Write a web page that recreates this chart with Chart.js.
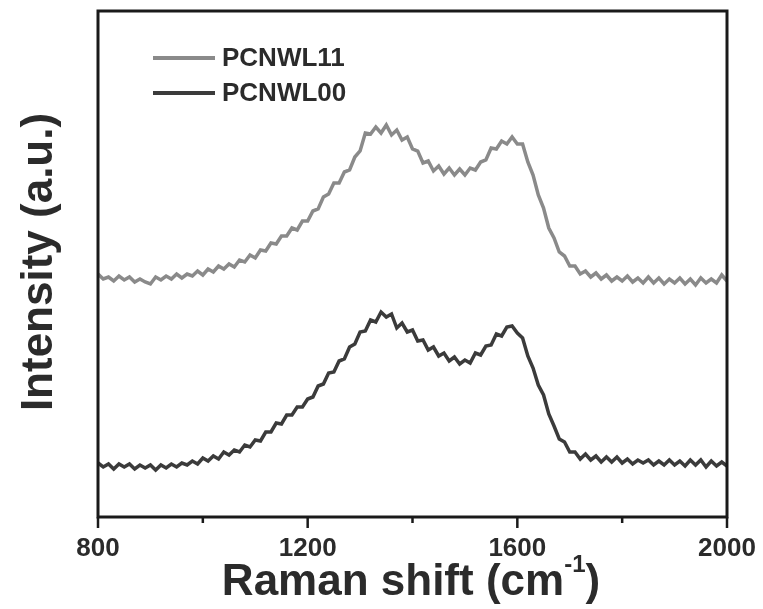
<!DOCTYPE html>
<html>
<head>
<meta charset="utf-8">
<script src="https://cdn.jsdelivr.net/npm/chart.js@4/dist/chart.umd.min.js"></script>
<style>
  html, body { margin: 0; padding: 0; background: #fff; }
  #wrap { width: 763px; height: 609px; }
</style>
</head>
<body>
<div id="wrap"><canvas id="grafico" width="763" height="609"></canvas></div>
<script>
// Raman shift (cm-1), one reading every 10 cm-1
const ramanShift = [
  800, 810, 820, 830, 840, 850, 860, 870, 880, 890,
  900, 910, 920, 930, 940, 950, 960, 970, 980, 990,
  1000, 1010, 1020, 1030, 1040, 1050, 1060, 1070, 1080, 1090,
  1100, 1110, 1120, 1130, 1140, 1150, 1160, 1170, 1180, 1190,
  1200, 1210, 1220, 1230, 1240, 1250, 1260, 1270, 1280, 1290,
  1300, 1310, 1320, 1330, 1340, 1350, 1360, 1370, 1380, 1390,
  1400, 1410, 1420, 1430, 1440, 1450, 1460, 1470, 1480, 1490,
  1500, 1510, 1520, 1530, 1540, 1550, 1560, 1570, 1580, 1590,
  1600, 1610, 1620, 1630, 1640, 1650, 1660, 1670, 1680, 1690,
  1700, 1710, 1720, 1730, 1740, 1750, 1760, 1770, 1780, 1790,
  1800, 1810, 1820, 1830, 1840, 1850, 1860, 1870, 1880, 1890,
  1900, 1910, 1920, 1930, 1940, 1950, 1960, 1970, 1980, 1990,
  2000
];

// intensidade (u.a.), já com o deslocamento vertical do gráfico
const pcnwl11 = [
  243, 238, 240, 236, 241, 237, 240, 235, 238, 235,
  233, 240, 237, 241, 238, 243, 239, 243, 241, 246,
  242, 248, 245, 251, 248, 253, 250, 257, 255, 262,
  259, 267, 266, 274, 273, 281, 281, 289, 287, 296,
  296, 306, 308, 320, 323, 334, 334, 345, 347, 360,
  366, 384, 383, 390, 384, 392, 382, 387, 377, 380,
  368, 366, 354, 356, 346, 351, 343, 349, 342, 348,
  342, 349, 347, 355, 357, 369, 368, 376, 373, 380,
  373, 373, 355, 342, 322, 309, 289, 279, 265, 261,
  251, 251, 243, 246, 240, 244, 238, 242, 236, 240,
  236, 241, 235, 239, 234, 240, 234, 239, 233, 238,
  234, 239, 233, 238, 232, 239, 234, 238, 234, 242,
  236
];

const pcnwl00 = [
  54, 50, 53, 48, 53, 50, 53, 48, 52, 49,
  52, 47, 52, 49, 53, 50, 54, 52, 56, 53,
  59, 56, 61, 58, 65, 62, 67, 65, 72, 70,
  77, 76, 85, 85, 94, 93, 102, 102, 110, 110,
  118, 120, 131, 133, 144, 145, 156, 158, 170, 173,
  185, 186, 197, 195, 205, 200, 203, 189, 194, 185,
  187, 176, 177, 167, 170, 161, 164, 156, 160, 153,
  157, 154, 164, 162, 171, 172, 183, 181, 190, 191,
  184, 179, 161, 149, 132, 122, 103, 91, 78, 75,
  65, 65, 58, 63, 57, 61, 55, 60, 55, 60,
  54, 58, 53, 57, 54, 57, 52, 56, 52, 57,
  52, 56, 51, 57, 52, 57, 50, 56, 51, 55,
  51
];

const nomesSeries = ['PCNWL11', 'PCNWL00'];
const coresSeries = ['#8a8a8a', '#3b3b3b'];
const ticksMaiores = [800, 1200, 1600, 2000];
const ticksMenores = [1000, 1400, 1800];

const FONTE = '"Liberation Sans", Arial, sans-serif';
const TINTA = '#2b2b2b';

function pontos(ys) {
  return ramanShift.map((x, i) => ({ x, y: ys[i] }));
}

// moldura, ticks, legenda e títulos dos eixos
const moldura = {
  id: 'moldura',
  afterDraw(chart) {
    const { ctx, chartArea: a, scales } = chart;
    const sx = scales.x;
    ctx.save();
    ctx.strokeStyle = '#1a1a1a';
    ctx.lineWidth = 3;
    ctx.strokeRect(a.left, a.top, a.right - a.left, a.bottom - a.top);

    ctx.lineWidth = 2.5;
    ticksMaiores.forEach(v => {
      const px = sx.getPixelForValue(v);
      ctx.beginPath(); ctx.moveTo(px, a.bottom); ctx.lineTo(px, a.bottom + 11); ctx.stroke();
    });
    ticksMenores.forEach(v => {
      const px = sx.getPixelForValue(v);
      ctx.beginPath(); ctx.moveTo(px, a.bottom); ctx.lineTo(px, a.bottom + 6); ctx.stroke();
    });

    // legenda dentro da área
    ctx.font = 'bold 26px ' + FONTE;
    ctx.textBaseline = 'middle';
    nomesSeries.forEach((nome, i) => {
      const y = 58 + i * 35;
      ctx.strokeStyle = coresSeries[i];
      ctx.lineWidth = 4;
      ctx.beginPath(); ctx.moveTo(153, y); ctx.lineTo(215, y); ctx.stroke();
      ctx.fillStyle = TINTA;
      ctx.fillText(nome, 222, y + 1);
    });

    // título do eixo x com expoente
    ctx.fillStyle = TINTA;
    ctx.textBaseline = 'alphabetic';
    const base = 'Raman shift (cm';
    ctx.font = 'bold 44px ' + FONTE;
    const w1 = ctx.measureText(base).width;
    const w3 = ctx.measureText(')').width;
    ctx.font = 'bold 24px ' + FONTE;
    const w2 = ctx.measureText('-1').width;
    const x0 = 411 - (w1 + w2 + w3) / 2;
    const yb = 595;
    ctx.font = 'bold 44px ' + FONTE;
    ctx.fillText(base, x0, yb);
    ctx.font = 'bold 24px ' + FONTE;
    ctx.fillText('-1', x0 + w1, yb - 23);
    ctx.font = 'bold 44px ' + FONTE;
    ctx.fillText(')', x0 + w1 + w2, yb);

    // título do eixo y
    ctx.translate(52, 262);
    ctx.rotate(-Math.PI / 2);
    ctx.textAlign = 'center';
    ctx.textBaseline = 'alphabetic';
    ctx.font = 'bold 44px ' + FONTE;
    ctx.fillText('Intensity (a.u.)', 0, 0);
    ctx.restore();
  }
};

new Chart(document.getElementById('grafico'), {
  type: 'line',
  data: {
    datasets: [
      { label: nomesSeries[0], data: pontos(pcnwl11), borderColor: coresSeries[0], borderWidth: 3.5, pointRadius: 0, tension: 0 },
      { label: nomesSeries[1], data: pontos(pcnwl00), borderColor: coresSeries[1], borderWidth: 3.5, pointRadius: 0, tension: 0 }
    ]
  },
  options: {
    responsive: false,
    animation: false,
    layout: { padding: { top: 11, right: 36, left: 0, bottom: 0 } },
    scales: {
      x: {
        type: 'linear',
        min: 800,
        max: 2000,
        grid: { display: false, drawTicks: false },
        border: { display: false },
        ticks: {
          stepSize: 400,
          padding: 16,
          color: TINTA,
          font: { family: FONTE, size: 26, weight: 'bold' },
          maxRotation: 0,
          callback: v => String(v)
        },
        afterFit: s => { s.height = 92; s.paddingLeft = 0; s.paddingRight = 0; }
      },
      y: {
        min: 0,
        max: 506,
        grid: { display: false, drawTicks: false },
        border: { display: false },
        ticks: { display: false },
        afterFit: s => { s.width = 98; }
      }
    },
    plugins: {
      legend: { display: false },
      tooltip: { enabled: false }
    }
  },
  plugins: [moldura]
});
</script>
</body>
</html>
